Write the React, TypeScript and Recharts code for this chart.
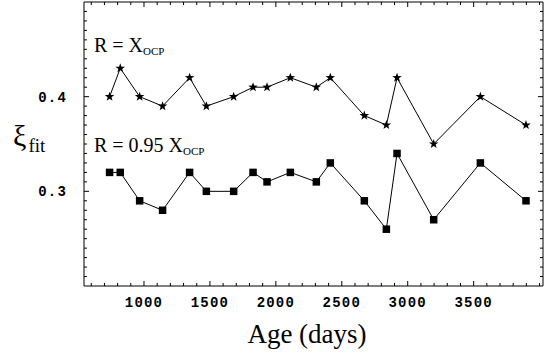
import React from 'react';
import { LineChart, Line, XAxis, YAxis, Customized } from 'recharts';

const ages = [739, 820, 967, 1141, 1346, 1473, 1680, 1827, 1933, 2110, 2307, 2413, 2671, 2838, 2919, 3197, 3551, 3897];
const xiFull = [0.40, 0.43, 0.40, 0.39, 0.42, 0.39, 0.40, 0.41, 0.41, 0.42, 0.41, 0.42, 0.38, 0.37, 0.42, 0.35, 0.40, 0.37];
const xi095 = [0.32, 0.32, 0.29, 0.28, 0.32, 0.30, 0.30, 0.32, 0.31, 0.32, 0.31, 0.33, 0.29, 0.26, 0.34, 0.27, 0.33, 0.29];
const xTickLabels = [1000, 1500, 2000, 2500, 3000, 3500];
const yTickLabels = [0.3, 0.4];
const xDomain = [545, 4026];
const yDomain = [0.2, 0.5];
const xMinorTicks = Array.from({ length: 35 }, (_, i) => 600 + i * 100);
const yMinorTicks = Array.from({ length: 29 }, (_, i) => (21 + i) / 100);

const data = ages.map((age, i) => ({ age, full: xiFull[i], scaled: xi095[i] }));

const W = 552;
const H = 363;

const tickFont = { fontFamily: '"Liberation Mono", monospace', fontWeight: 700, fontSize: 14, letterSpacing: 1.2 };
const serif = '"Liberation Serif", "Times New Roman", serif';

const BottomTick = (props: any) => {
  const { x, y, payload } = props;
  const v = payload.value;
  const major = xTickLabels.includes(v);
  return (
    <g>
      <line x1={x} x2={x} y1={y} y2={y - (major ? 5 : 3)} stroke="#000" strokeWidth={1} />
      {major && (
        <text x={x} y={y + 21} textAnchor="middle" fill="#000" style={tickFont}>{v}</text>
      )}
    </g>
  );
};

const TopTick = (props: any) => {
  const { x, y, payload } = props;
  const major = xTickLabels.includes(payload.value);
  return <line x1={x} x2={x} y1={y} y2={y + (major ? 5 : 3)} stroke="#000" strokeWidth={1} />;
};

const LeftTick = (props: any) => {
  const { x, y, payload } = props;
  const v = payload.value;
  const major = yTickLabels.includes(v);
  return (
    <g>
      <line x1={x} x2={x + (major ? 5 : 3)} y1={y} y2={y} stroke="#000" strokeWidth={1} />
      {major && (
        <text x={x - 17} y={y + 5} textAnchor="end" fill="#000" style={tickFont}>{v.toFixed(1)}</text>
      )}
    </g>
  );
};

const RightTick = (props: any) => {
  const { x, y, payload } = props;
  const major = yTickLabels.includes(payload.value);
  return <line x1={x} x2={x - (major ? 5 : 3)} y1={y} y2={y} stroke="#000" strokeWidth={1} />;
};

const StarDot = (props: any) => {
  const { cx, cy } = props;
  if (cx == null || cy == null) return null;
  const pts: string[] = [];
  for (let i = 0; i < 10; i++) {
    const r = i % 2 === 0 ? 5 : 2;
    const a = -Math.PI / 2 + (i * Math.PI) / 5;
    pts.push(`${cx + r * Math.cos(a)},${cy + r * Math.sin(a)}`);
  }
  return <polygon points={pts.join(' ')} fill="#000" stroke="none" />;
};

const SquareDot = (props: any) => {
  const { cx, cy } = props;
  if (cx == null || cy == null) return null;
  const s = 7.5;
  return <rect x={cx - s / 2} y={cy - s / 2} width={s} height={s} fill="#000" />;
};

const Annotations = () => (
  <g>
    <text x={94} y={51.5} style={{ fontFamily: serif, fontSize: 20 }} fill="#000">
      R = X<tspan style={{ fontSize: 11 }} dy={3}>OCP</tspan>
    </text>
    <text x={94} y={151.5} style={{ fontFamily: serif, fontSize: 20 }} fill="#000">
      R = 0.95 X<tspan style={{ fontSize: 11 }} dy={3}>OCP</tspan>
    </text>
    <text x={13} y={146} style={{ fontFamily: serif, fontSize: 30 }} fill="#000">
      ξ<tspan style={{ fontSize: 19 }} dx={2} dy={6}>fit</tspan>
    </text>
    <text x={307} y={343} textAnchor="middle" style={{ fontFamily: serif, fontSize: 27 }} fill="#000">
      Age (days)
    </text>
  </g>
);

export default function App() {
  return (
    <div style={{ position: 'absolute', left: 0, top: 0, width: W, height: H, background: '#fff' }}>
      <LineChart width={W} height={H} data={data} margin={{ top: 1, right: 8, bottom: 0, left: 0 }}>
        <XAxis
          dataKey="age"
          type="number"
          domain={xDomain}
          xAxisId="b"
          height={77}
          ticks={xMinorTicks}
          interval={0}
          tickSize={0}
          tickMargin={0}
          tick={<BottomTick />}
          tickLine={false}
          stroke="#000"
        />
        <XAxis
          dataKey="age"
          type="number"
          domain={xDomain}
          xAxisId="t"
          orientation="top"
          height={1}
          ticks={xMinorTicks}
          interval={0}
          tickSize={0}
          tickMargin={0}
          tick={<TopTick />}
          tickLine={false}
          stroke="#000"
        />
        <YAxis
          type="number"
          domain={yDomain}
          yAxisId="l"
          width={84}
          ticks={yMinorTicks}
          interval={0}
          tickSize={0}
          tickMargin={0}
          tick={<LeftTick />}
          tickLine={false}
          stroke="#000"
        />
        <YAxis
          type="number"
          domain={yDomain}
          yAxisId="r"
          orientation="right"
          width={1}
          ticks={yMinorTicks}
          interval={0}
          tickSize={0}
          tickMargin={0}
          tick={<RightTick />}
          tickLine={false}
          stroke="#000"
        />
        <Line
          xAxisId="b"
          yAxisId="l"
          type="linear"
          dataKey="full"
          stroke="#000"
          strokeWidth={1}
          dot={<StarDot />}
          activeDot={false}
          isAnimationActive={false}
        />
        <Line
          xAxisId="t"
          yAxisId="r"
          type="linear"
          dataKey="scaled"
          stroke="#000"
          strokeWidth={1}
          dot={<SquareDot />}
          activeDot={false}
          isAnimationActive={false}
        />
        <Customized component={Annotations} />
      </LineChart>
    </div>
  );
}
